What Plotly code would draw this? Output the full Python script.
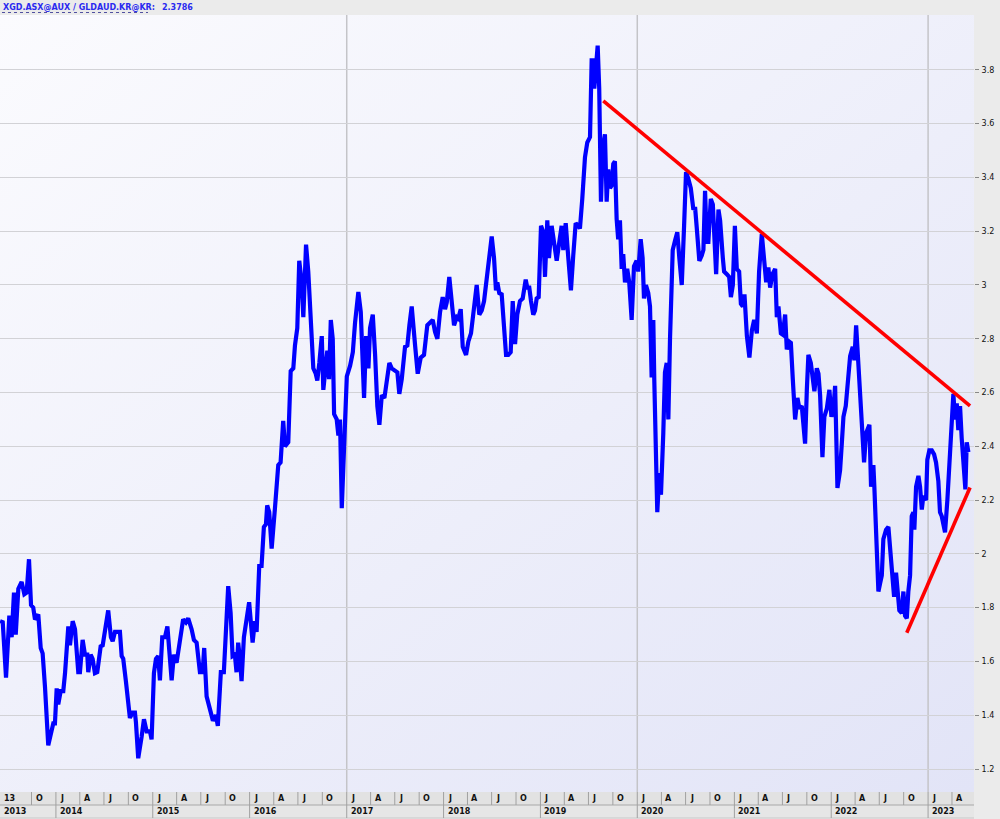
import base64
import numpy as np
import pandas as pd
import plotly.graph_objects as go

# ---------------- data (time as decimal years, ratio values) ----------------
t_years = [
    2013.423, 2013.451, 2013.485, 2013.519, 2013.543, 2013.567, 2013.585, 2013.612, 2013.646, 2013.674,
    2013.698, 2013.722, 2013.743, 2013.766, 2013.784, 2013.818, 2013.843, 2013.863, 2013.887, 2013.921,
    2013.973, 2013.990, 2014.008, 2014.024, 2014.049, 2014.076, 2014.094, 2014.128, 2014.145, 2014.173,
    2014.197, 2014.231, 2014.248, 2014.276, 2014.300, 2014.324, 2014.334, 2014.359, 2014.379, 2014.403,
    2014.427, 2014.462, 2014.483, 2014.517, 2014.540, 2014.568, 2014.586, 2014.610, 2014.644, 2014.661,
    2014.679, 2014.695, 2014.723, 2014.764, 2014.792, 2014.816, 2014.826, 2014.850, 2014.885, 2014.909,
    2014.937, 2014.971, 2014.988, 2015.012, 2015.033, 2015.056, 2015.074, 2015.098, 2015.126, 2015.151,
    2015.195, 2015.218, 2015.246, 2015.280, 2015.314, 2015.342, 2015.366, 2015.401, 2015.425, 2015.453,
    2015.487, 2015.515, 2015.531, 2015.556, 2015.590, 2015.621, 2015.652, 2015.672, 2015.703, 2015.734,
    2015.779, 2015.804, 2015.824, 2015.848, 2015.865, 2015.882, 2015.900, 2015.917, 2015.941, 2015.969,
    2015.995, 2016.031, 2016.054, 2016.072, 2016.099, 2016.123, 2016.147, 2016.168, 2016.181, 2016.202,
    2016.227, 2016.261, 2016.295, 2016.319, 2016.346, 2016.364, 2016.398, 2016.423, 2016.450, 2016.467,
    2016.491, 2016.511, 2016.536, 2016.553, 2016.581, 2016.604, 2016.629, 2016.656, 2016.681, 2016.697,
    2016.718, 2016.743, 2016.759, 2016.787, 2016.800, 2016.818, 2016.836, 2016.856, 2016.870, 2016.897,
    2016.914, 2016.931, 2016.949, 2016.973, 2017.001, 2017.035, 2017.063, 2017.086, 2017.120, 2017.145,
    2017.166, 2017.179, 2017.200, 2017.224, 2017.241, 2017.269, 2017.293, 2017.316, 2017.337, 2017.362,
    2017.389, 2017.413, 2017.440, 2017.465, 2017.499, 2017.523, 2017.543, 2017.568, 2017.602, 2017.626,
    2017.647, 2017.671, 2017.706, 2017.733, 2017.764, 2017.798, 2017.832, 2017.860, 2017.888, 2017.912,
    2017.936, 2017.964, 2017.991, 2018.015, 2018.033, 2018.059, 2018.084, 2018.108, 2018.136, 2018.152,
    2018.177, 2018.198, 2018.232, 2018.256, 2018.283, 2018.307, 2018.342, 2018.369, 2018.394, 2018.418,
    2018.445, 2018.472, 2018.497, 2018.521, 2018.541, 2018.555, 2018.575, 2018.600, 2018.624, 2018.645,
    2018.668, 2018.693, 2018.714, 2018.738, 2018.761, 2018.789, 2018.817, 2018.848, 2018.864, 2018.885,
    2018.903, 2018.926, 2018.944, 2018.961, 2018.982, 2019.006, 2019.030, 2019.047, 2019.071, 2019.088,
    2019.116, 2019.140, 2019.168, 2019.195, 2019.219, 2019.236, 2019.261, 2019.288, 2019.315, 2019.339,
    2019.364, 2019.391, 2019.408, 2019.432, 2019.460, 2019.484, 2019.512, 2019.529, 2019.546, 2019.556,
    2019.573, 2019.591, 2019.607, 2019.625, 2019.643, 2019.666, 2019.684, 2019.700, 2019.718, 2019.735,
    2019.752, 2019.769, 2019.787, 2019.803, 2019.821, 2019.839, 2019.855, 2019.873, 2019.896, 2019.917,
    2019.942, 2019.966, 2019.993, 2020.010, 2020.035, 2020.055, 2020.069, 2020.089, 2020.113, 2020.131,
    2020.148, 2020.165, 2020.175, 2020.189, 2020.206, 2020.227, 2020.244, 2020.268, 2020.285, 2020.303,
    2020.320, 2020.337, 2020.365, 2020.389, 2020.412, 2020.433, 2020.458, 2020.482, 2020.502, 2020.526,
    2020.551, 2020.578, 2020.595, 2020.613, 2020.639, 2020.664, 2020.681, 2020.698, 2020.716, 2020.732,
    2020.757, 2020.778, 2020.791, 2020.812, 2020.836, 2020.853, 2020.881, 2020.894, 2020.922, 2020.946,
    2020.964, 2020.984, 2021.005, 2021.025, 2021.049, 2021.067, 2021.087, 2021.104, 2021.129, 2021.155,
    2021.180, 2021.204, 2021.232, 2021.255, 2021.283, 2021.307, 2021.328, 2021.351, 2021.369, 2021.393,
    2021.421, 2021.438, 2021.455, 2021.480, 2021.500, 2021.524, 2021.541, 2021.565, 2021.583, 2021.603,
    2021.627, 2021.651, 2021.671, 2021.696, 2021.713, 2021.730, 2021.748, 2021.764, 2021.789, 2021.810,
    2021.826, 2021.851, 2021.868, 2021.885, 2021.909, 2021.929, 2021.954, 2021.981, 2022.002, 2022.022,
    2022.040, 2022.064, 2022.091, 2022.109, 2022.126, 2022.150, 2022.167, 2022.195, 2022.222, 2022.239,
    2022.257, 2022.280, 2022.298, 2022.326, 2022.339, 2022.360, 2022.394, 2022.411, 2022.435, 2022.445,
    2022.470, 2022.487, 2022.504, 2022.522, 2022.538, 2022.566, 2022.590, 2022.607, 2022.631, 2022.649,
    2022.669, 2022.687, 2022.703, 2022.728, 2022.745, 2022.762, 2022.780, 2022.796, 2022.814, 2022.831,
    2022.848, 2022.858, 2022.876, 2022.900, 2022.917, 2022.935, 2022.951, 2022.979, 2022.992, 2023.013,
    2023.038, 2023.062, 2023.082, 2023.106, 2023.123, 2023.141, 2023.158, 2023.175, 2023.199, 2023.219,
    2023.244, 2023.261, 2023.278, 2023.296, 2023.312, 2023.330, 2023.347, 2023.371, 2023.385, 2023.399,
    2023.416,
]
ratio = [
    1.75, 1.746, 1.54, 1.77, 1.69, 1.856, 1.70, 1.87, 1.896, 1.85,
    1.856, 1.98, 1.81, 1.80, 1.756, 1.775, 1.65, 1.63, 1.506, 1.288,
    1.37, 1.37, 1.50, 1.44, 1.49, 1.49, 1.556, 1.73, 1.66, 1.75,
    1.72, 1.56, 1.56, 1.68, 1.625, 1.625, 1.56, 1.625, 1.61, 1.556,
    1.56, 1.656, 1.66, 1.73, 1.79, 1.69, 1.675, 1.71, 1.71, 1.71,
    1.62, 1.61, 1.525, 1.39, 1.41, 1.41, 1.375, 1.24, 1.32, 1.385,
    1.34, 1.34, 1.31, 1.556, 1.61, 1.62, 1.53, 1.69, 1.69, 1.73,
    1.53, 1.625, 1.595, 1.68, 1.757, 1.745, 1.76, 1.72, 1.68, 1.67,
    1.56, 1.56, 1.65, 1.47, 1.42, 1.38, 1.40, 1.36, 1.56, 1.56,
    1.88, 1.78, 1.62, 1.625, 1.56, 1.67, 1.61, 1.527, 1.69, 1.77,
    1.82, 1.67, 1.75, 1.71, 1.955, 1.955, 2.10, 2.11, 2.18, 2.155,
    2.02, 2.17, 2.33, 2.34, 2.495, 2.40, 2.415, 2.68, 2.69, 2.775,
    2.84, 3.09, 3.01, 2.88, 3.15, 3.05, 2.90, 2.69, 2.67, 2.645,
    2.71, 2.81, 2.61, 2.69, 2.756, 2.65, 2.87, 2.80, 2.52, 2.50,
    2.44, 2.50, 2.17, 2.40, 2.66, 2.70, 2.75, 2.86, 2.974, 2.90,
    2.65, 2.58, 2.81, 2.69, 2.84, 2.89, 2.74, 2.55, 2.48, 2.59,
    2.58, 2.65, 2.71, 2.69, 2.68, 2.675, 2.595, 2.65, 2.77, 2.775,
    2.85, 2.92, 2.775, 2.67, 2.73, 2.74, 2.85, 2.86, 2.87, 2.825,
    2.80, 2.90, 2.955, 2.91, 2.935, 3.03, 2.92, 2.85, 2.88, 2.875,
    2.91, 2.77, 2.74, 2.79, 2.82, 2.90, 3.00, 2.89, 2.905, 2.94,
    3.02, 3.11, 3.18, 3.10, 2.98, 3.01, 2.97, 2.965, 2.84, 2.74,
    2.74, 2.75, 2.94, 2.78, 2.89, 2.94, 2.95, 3.02, 2.99, 2.99,
    2.94, 2.89, 2.905, 2.95, 2.955, 3.22, 3.196, 3.03, 3.24, 3.10,
    3.22, 3.17, 3.09, 3.16, 3.22, 3.13, 3.23, 3.10, 2.98, 3.11,
    3.23, 3.22, 3.21, 3.32, 3.475, 3.53, 3.55, 3.835, 3.835, 3.73,
    3.80, 3.89, 3.73, 3.31, 3.51, 3.56, 3.31, 3.43, 3.36, 3.37,
    3.45, 3.46, 3.245, 3.17, 3.24, 3.06, 3.115, 3.01, 3.06, 3.01,
    2.87, 3.07, 3.09, 3.05, 3.17, 3.10, 2.95, 3.00, 2.97, 2.92,
    2.656, 2.87, 2.65, 2.43, 2.155, 2.30, 2.22, 2.45, 2.675, 2.71,
    2.50, 2.80, 3.13, 3.165, 3.196, 3.10, 3.00, 3.22, 3.42, 3.395,
    3.36, 3.28, 3.29, 3.21, 3.09, 3.11, 3.13, 3.35, 3.16, 3.16,
    3.32, 3.30, 3.18, 3.04, 3.28, 3.24, 3.10, 3.05, 3.04, 3.03,
    2.955, 3.00, 3.22, 3.06, 3.05, 2.93, 2.92, 2.965, 2.81, 2.73,
    2.83, 2.87, 2.82, 3.05, 3.19, 3.08, 3.01, 3.065, 2.99, 3.04,
    3.06, 2.88, 2.92, 2.82, 2.815, 2.89, 2.76, 2.79, 2.785, 2.65,
    2.50, 2.58, 2.54, 2.55, 2.46, 2.41, 2.61, 2.74, 2.71, 2.65,
    2.605, 2.69, 2.67, 2.59, 2.36, 2.51, 2.54, 2.61, 2.51, 2.54,
    2.625, 2.245, 2.31, 2.41, 2.51, 2.55, 2.64, 2.735, 2.77, 2.72,
    2.85, 2.72, 2.56, 2.46, 2.34, 2.45, 2.48, 2.25, 2.33, 2.25,
    2.00, 1.86, 1.89, 1.92, 2.055, 2.09, 2.10, 2.03, 1.94, 1.84,
    1.93, 1.83, 1.79, 1.78, 1.86, 1.77, 1.76, 1.86, 1.92, 2.14,
    2.155, 2.09, 2.25, 2.29, 2.25, 2.165, 2.215, 2.20, 2.35, 2.385,
    2.385, 2.37, 2.34, 2.27, 2.155, 2.14, 2.10, 2.08, 2.20, 2.34,
    2.48, 2.595, 2.50, 2.56, 2.46, 2.55, 2.43, 2.33, 2.24, 2.415,
    2.3786,
]

# trend lines (start/end in decimal years and values)
resist_years = [2019.649, 2023.433]
resist_vals = [3.685, 2.55]
support_years = [2022.780, 2023.433]
support_vals = [1.707, 2.247]

title_text = "XGD.ASX@AUX / GLDAUD.KR@KR:"
last_value_text = "2.3786"

y_tickvals = [1.2, 1.4, 1.6, 1.8, 2.0, 2.2, 2.4, 2.6, 2.8, 3.0, 3.2, 3.4, 3.6, 3.8]
y_ticktext = ["1.2", "1.4", "1.6", "1.8", "2", "2.2", "2.4", "2.6", "2.8", "3", "3.2", "3.4", "3.6", "3.8"]
year_labels = [2013, 2014, 2015, 2016, 2017, 2018, 2019, 2020, 2021, 2022, 2023]
quarter_letters = {1: "J", 4: "A", 7: "J", 10: "O"}
first_quarter_label = "13"
first_quarter_end = pd.Timestamp(2013, 10, 1)
vgrid_years = [2017, 2020, 2023]
x_range_years = [2013.4227, 2023.474]
y_range = [1.1145, 4.004]


def yr2date(y):
    yi = int(np.floor(y))
    s = pd.Timestamp(yi, 1, 1)
    e = pd.Timestamp(yi + 1, 1, 1)
    return s + (e - s) * (y - yi)


dates = [yr2date(y) for y in t_years]
x0 = yr2date(x_range_years[0])
x1 = yr2date(x_range_years[1])

fig = go.Figure()
fig.add_trace(go.Scatter(x=dates, y=ratio, mode="lines",
                         line=dict(color="#0000ff", width=4.2), hoverinfo="x+y", showlegend=False))
fig.add_trace(go.Scatter(x=[yr2date(v) for v in resist_years], y=resist_vals, mode="lines",
                         line=dict(color="#ff0000", width=3.6), showlegend=False))
fig.add_trace(go.Scatter(x=[yr2date(v) for v in support_years], y=support_vals, mode="lines",
                         line=dict(color="#ff0000", width=3.6), showlegend=False))

# gradient background
svg = ('<svg xmlns="http://www.w3.org/2000/svg" width="100" height="100" preserveAspectRatio="none">'
       '<defs><linearGradient id="g" x1="0" y1="0" x2="1" y2="1">'
       '<stop offset="0" stop-color="#fbfbfe"/><stop offset="1" stop-color="#e2e4f7"/>'
       '</linearGradient></defs><rect width="100" height="100" fill="url(#g)"/></svg>')
src = "data:image/svg+xml;base64," + base64.b64encode(svg.encode()).decode()

shapes = []
annotations = []
for yv in vgrid_years:
    shapes.append(dict(type="line", xref="x", yref="paper", x0=pd.Timestamp(yv, 1, 1), x1=pd.Timestamp(yv, 1, 1),
                       y0=0, y1=1, line=dict(color="#c4c4c8", width=1.5), layer="below"))

# bottom time-axis rows
PH = 777.0
r1 = -13 / PH
r2 = -26 / PH
lab_font = dict(family="Verdana, DejaVu Sans", size=8, color="#111111")
shapes.append(dict(type="rect", xref="paper", yref="paper", x0=0, x1=1, y0=r1, y1=0,
                   fillcolor="#e2e2e2", line=dict(width=0), layer="below"))
shapes.append(dict(type="rect", xref="paper", yref="paper", x0=0, x1=1, y0=r2, y1=r1,
                   fillcolor="#e6e6e6", line=dict(width=0), layer="below"))
shapes.append(dict(type="line", xref="paper", yref="paper", x0=0, x1=1, y0=r1, y1=r1,
                   line=dict(color="#a8a8a8", width=1)))
shapes.append(dict(type="line", xref="paper", yref="paper", x0=0, x1=1, y0=r2, y1=r2,
                   line=dict(color="#c8c8c8", width=1)))

annotations.append(dict(x=x0, y=r1 / 2, xref="x", yref="paper", text="<b>%s</b>" % first_quarter_label,
                        showarrow=False, xanchor="left", yanchor="middle", xshift=2, font=lab_font))
annotations.append(dict(x=x0, y=(r1 + r2) / 2, xref="x", yref="paper", text="<b>2013</b>", showarrow=False,
                        xanchor="left", yanchor="middle", xshift=2, font=lab_font))
for yr in year_labels:
    for m, letter in quarter_letters.items():
        d = pd.Timestamp(yr, m, 1)
        if d < first_quarter_end or d >= x1:
            continue
        shapes.append(dict(type="line", xref="x", yref="paper", x0=d, x1=d, y0=r1, y1=0,
                           line=dict(color="#a0a0a0", width=1)))
        annotations.append(dict(x=d, y=r1 / 2, xref="x", yref="paper", text="<b>%s</b>" % letter,
                                showarrow=False, xanchor="left", yanchor="middle", xshift=2, font=lab_font))
    d = pd.Timestamp(yr, 1, 1)
    if x0 < d < x1:
        shapes.append(dict(type="line", xref="x", yref="paper", x0=d, x1=d, y0=r2, y1=r1,
                           line=dict(color="#a0a0a0", width=1)))
        annotations.append(dict(x=d, y=(r1 + r2) / 2, xref="x", yref="paper", text="<b>%d</b>" % yr,
                                showarrow=False, xanchor="left", yanchor="middle", xshift=2, font=lab_font))

# header
hdr_font = dict(family="Verdana, DejaVu Sans", size=8, color="#2a2af0")
annotations.append(dict(x=0, y=1, xref="paper", yref="paper", text="<b>%s</b>" % title_text, showarrow=False,
                        xanchor="left", yanchor="bottom", xshift=1, yshift=1, font=hdr_font))
annotations.append(dict(x=0, y=1, xref="paper", yref="paper", text="<b>%s</b>" % last_value_text, showarrow=False,
                        xanchor="left", yanchor="bottom", xshift=160, yshift=1, font=hdr_font))
shapes.append(dict(type="line", xref="paper", yref="paper", x0=2 / 974, x1=148 / 974, y0=1 + 2.5 / PH,
                   y1=1 + 2.5 / PH, line=dict(color="#5050a0", width=1, dash="dot")))

fig.update_layout(
    width=1000, height=819,
    margin=dict(l=0, r=26, t=15, b=27, autoexpand=False),
    paper_bgcolor="#ebebeb",
    plot_bgcolor="#f0f1fb",
    images=[dict(source=src, xref="paper", yref="paper", x=0, y=1, sizex=1, sizey=1,
                 sizing="stretch", layer="below", xanchor="left", yanchor="top")],
    xaxis=dict(type="date", range=[x0, x1], showgrid=False, showticklabels=False, ticks="",
               zeroline=False, showline=False, fixedrange=True),
    yaxis=dict(side="right", range=y_range, tickvals=y_tickvals, ticktext=y_ticktext,
               showgrid=True, gridcolor="#d2d2d6", gridwidth=1, zeroline=False, showline=False,
               ticks="outside", ticklen=4, tickcolor="#888888", automargin=False,
               tickfont=dict(family="Verdana, DejaVu Sans", size=8, color="#111111"), ticklabelstandoff=1),
    shapes=shapes,
    annotations=annotations,
    showlegend=False,
)
fig.update_yaxes(tickprefix="<b>", ticksuffix="</b>")

fig.write_html("out.html", config={"displayModeBar": False},
               post_script="document.body.style.margin='0px';document.body.style.overflow='hidden';")
